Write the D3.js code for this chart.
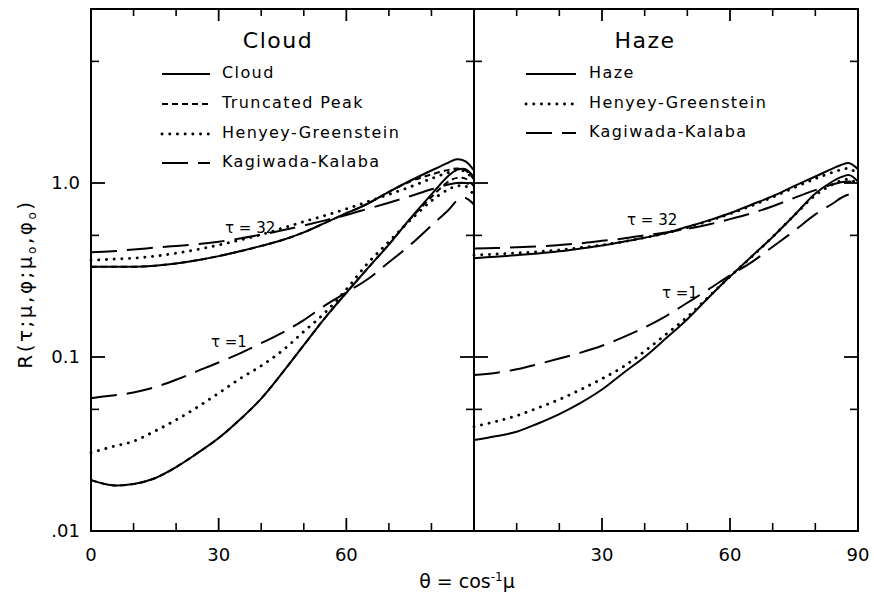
<!DOCTYPE html>
<html><head><meta charset="utf-8">
<script src="https://cdn.jsdelivr.net/npm/d3@7"></script>
<style>
body{margin:0;background:#fff}
svg{display:block}
text{font-family:"DejaVu Sans",sans-serif;fill:#000}
</style>
</head><body>
<svg id="c" width="874" height="600"></svg>
<script>
// ---- data ----
const theta = [0,5,10,15,20,25,30,35,40,45,50,55,60,65,70,75,80,84,86,88,90];

// Cloud panel
const cloudTau32    = [0.33,0.33,0.33,0.335,0.345,0.36,0.38,0.405,0.435,0.47,0.52,0.59,0.67,0.76,0.89,1.03,1.18,1.31,1.37,1.33,1.18];
const truncTau32    = [0.33,0.33,0.33,0.335,0.345,0.36,0.38,0.405,0.435,0.47,0.52,0.59,0.67,0.76,0.89,1.02,1.12,1.19,1.21,1.18,1.05];
const cloudHGTau32  = [0.36,0.365,0.37,0.38,0.395,0.415,0.44,0.47,0.505,0.55,0.6,0.65,0.71,0.78,0.86,0.95,1.06,1.15,1.19,1.16,1.04];
const cloudKKTau32  = [0.40,0.405,0.415,0.425,0.435,0.445,0.46,0.48,0.505,0.535,0.57,0.61,0.655,0.71,0.77,0.84,0.92,0.98,1.0,1.0,0.96];
const cloudTau1     = [0.0196,0.0183,0.0186,0.0201,0.0233,0.028,0.0342,0.0437,0.0577,0.0813,0.117,0.168,0.234,0.323,0.443,0.624,0.86,1.1,1.19,1.2,1.08];
const truncTau1     = [0.0196,0.0183,0.0186,0.0201,0.0233,0.028,0.0342,0.0437,0.0577,0.0813,0.117,0.168,0.234,0.323,0.443,0.62,0.83,1.02,1.07,1.06,0.96];
const cloudHGTau1   = [0.0282,0.0305,0.0328,0.0375,0.0435,0.0515,0.062,0.075,0.089,0.109,0.14,0.18,0.245,0.345,0.46,0.61,0.79,0.92,0.96,0.96,0.85];
const cloudKKTau1   = [0.058,0.06,0.0625,0.067,0.074,0.083,0.093,0.105,0.12,0.138,0.163,0.198,0.235,0.28,0.35,0.44,0.57,0.7,0.79,0.82,0.75];

// Haze panel
const hazeTau32     = [0.37,0.377,0.385,0.394,0.405,0.42,0.437,0.46,0.485,0.515,0.56,0.61,0.67,0.75,0.84,0.96,1.09,1.21,1.27,1.30,1.2];
const hazeHGTau32   = [0.385,0.39,0.396,0.403,0.412,0.425,0.44,0.46,0.485,0.515,0.555,0.605,0.665,0.74,0.83,0.94,1.06,1.15,1.19,1.21,1.12];
const hazeKKTau32   = [0.42,0.423,0.427,0.432,0.44,0.45,0.465,0.48,0.5,0.52,0.545,0.578,0.62,0.67,0.735,0.82,0.91,0.98,1.01,1.02,0.99];
const hazeTau1      = [0.0333,0.035,0.0372,0.0415,0.047,0.0545,0.065,0.081,0.1,0.128,0.165,0.22,0.29,0.377,0.49,0.65,0.87,1.02,1.08,1.11,1.02];
const hazeHGTau1    = [0.0398,0.0425,0.046,0.051,0.057,0.065,0.075,0.088,0.108,0.135,0.17,0.222,0.29,0.375,0.49,0.65,0.85,0.98,1.03,1.05,0.98];
const hazeKKTau1    = [0.0788,0.081,0.085,0.091,0.098,0.106,0.116,0.13,0.148,0.172,0.205,0.245,0.295,0.35,0.43,0.53,0.66,0.76,0.82,0.86,0.85];

// ticks / labels
const yTickLabels = [{v:1,t:"1.0"},{v:0.1,t:"0.1"},{v:0.01,t:".01"}];
const yMajorTicks = [1,0.1];
const yMinorTicks = [5,0.5,0.05];
const xMinorTicks = [10,20,40,50,70,80];
const xMajorTicks = [30,60];
const leftXLabels  = [0,30,60];
const rightXLabels = [30,60,90];
const cloudLegend = ["Cloud","Truncated Peak","Henyey-Greenstein","Kagiwada-Kalaba"];
const hazeLegend  = ["Haze","Henyey-Greenstein","Kagiwada-Kalaba"];

// ---- drawing ----
const svg = d3.select("#c");
const yTop = 9, yBot = 531;
const y = d3.scaleLog().domain([0.01,10]).range([yBot, yTop]);
const xL = d3.scaleLinear().domain([0,90]).range([91,474]);
const xR = d3.scaleLinear().domain([0,90]).range([474,858]);

const styles = {
  solid:{dash:null, w:2, cap:"butt"},
  trunc:{dash:"6,4", w:2, cap:"butt"},
  dot:{dash:"0.1,7.6", w:2.9, cap:"round"},
  long:{dash:"26,10", w:2, cap:"butt"}
};

function drawCurve(x, vals, st){
  const s = styles[st];
  const line = d3.line().x((d,i)=>x(theta[i])).y(d=>y(d)).curve(d3.curveCatmullRom.alpha(0.5));
  const p = svg.append("path").datum(vals).attr("d", line)
    .attr("fill","none").attr("stroke","#000").attr("stroke-width",s.w)
    .attr("stroke-linecap",s.cap).attr("stroke-linejoin","round");
  if(s.dash) p.attr("stroke-dasharray", s.dash);
}

function panel(x, curves, title, legend, legendStyles, lx0, lx1, ltx, rows){
  svg.append("rect").attr("x",x.range()[0]).attr("y",yTop).attr("width",x.range()[1]-x.range()[0])
    .attr("height",yBot-yTop).attr("fill","none").attr("stroke","#000").attr("stroke-width",2);
  xMinorTicks.forEach(t=>{
    svg.append("line").attr("x1",x(t)).attr("x2",x(t)).attr("y1",yBot).attr("y2",yBot-8).attr("stroke","#000").attr("stroke-width",1.6);
    svg.append("line").attr("x1",x(t)).attr("x2",x(t)).attr("y1",yTop).attr("y2",yTop+7).attr("stroke","#000").attr("stroke-width",1.6);
  });
  xMajorTicks.forEach(t=>{
    svg.append("line").attr("x1",x(t)).attr("x2",x(t)).attr("y1",yBot).attr("y2",yBot-13).attr("stroke","#000").attr("stroke-width",1.8);
    svg.append("line").attr("x1",x(t)).attr("x2",x(t)).attr("y1",yTop).attr("y2",yTop+12).attr("stroke","#000").attr("stroke-width",1.8);
  });
  const [a,b] = x.range();
  yMajorTicks.forEach(v=>{
    svg.append("line").attr("x1",a).attr("x2",a+14).attr("y1",y(v)).attr("y2",y(v)).attr("stroke","#000").attr("stroke-width",1.8);
    svg.append("line").attr("x1",b).attr("x2",b-14).attr("y1",y(v)).attr("y2",y(v)).attr("stroke","#000").attr("stroke-width",1.8);
  });
  yMinorTicks.forEach(v=>{
    svg.append("line").attr("x1",a).attr("x2",a+8).attr("y1",y(v)).attr("y2",y(v)).attr("stroke","#000").attr("stroke-width",1.6);
    svg.append("line").attr("x1",b).attr("x2",b-8).attr("y1",y(v)).attr("y2",y(v)).attr("stroke","#000").attr("stroke-width",1.6);
  });
  curves.forEach(c=>drawCurve(x, c[0], c[1]));
  svg.append("text").attr("x",title.x).attr("y",48).attr("text-anchor","middle")
    .attr("font-size",22).attr("letter-spacing",1.5).text(title.t);
  legend.forEach((t,i)=>{
    const by = rows[i];
    const s = styles[legendStyles[i]];
    const l = svg.append("line").attr("x1",lx0).attr("x2",lx1).attr("y1",by-4).attr("y2",by-4)
      .attr("stroke","#000").attr("stroke-width",s.w).attr("stroke-linecap",s.cap);
    if(s.dash) l.attr("stroke-dasharray", s.dash);
    svg.append("text").attr("x",ltx).attr("y",by).attr("font-size",16).attr("letter-spacing",1.4).text(t);
  });
}

panel(xL, [
  [cloudTau32,"solid"],[truncTau32,"trunc"],[cloudHGTau32,"dot"],[cloudKKTau32,"long"],
  [cloudTau1,"solid"],[truncTau1,"trunc"],[cloudHGTau1,"dot"],[cloudKKTau1,"long"]
], {x:278,t:"Cloud"}, cloudLegend, ["solid","trunc","dot","long"], 162, 210, 222, [78,108,138,167]);

panel(xR, [
  [hazeTau32,"solid"],[hazeHGTau32,"dot"],[hazeKKTau32,"long"],
  [hazeTau1,"solid"],[hazeHGTau1,"dot"],[hazeKKTau1,"long"]
], {x:645,t:"Haze"}, hazeLegend, ["solid","dot","long"], 526, 576, 589, [78,108,137]);

const tauLabels = [
  {x:225,y:233,t:"τ = 32"},{x:211,y:347,t:"τ =1"},
  {x:627,y:225,t:"τ = 32"},{x:662,y:298,t:"τ =1"}
];
tauLabels.forEach(d=>svg.append("text").attr("x",d.x).attr("y",d.y).attr("font-size",15).text(d.t));

yTickLabels.forEach(d=>svg.append("text").attr("x",80).attr("y",y(d.v)+6).attr("text-anchor","end")
  .attr("font-size",18).text(d.t));
leftXLabels.forEach(v=>svg.append("text").attr("x",xL(v)).attr("y",561).attr("text-anchor","middle").attr("font-size",18).text(v));
rightXLabels.forEach(v=>svg.append("text").attr("x",xR(v)).attr("y",561).attr("text-anchor","middle").attr("font-size",18).text(v));

const xt = svg.append("text").attr("x",467).attr("y",588).attr("text-anchor","middle").attr("font-size",19);
xt.append("tspan").text("θ = cos");
xt.append("tspan").attr("font-size",12).attr("dy",-7).text("-1");
xt.append("tspan").attr("dy",7).text("μ");

const yt = svg.append("text").attr("transform","translate(32,284) rotate(-90)").attr("text-anchor","middle").attr("font-size",20).attr("letter-spacing",2.5);
yt.append("tspan").text("R(τ;μ,φ;μ");
yt.append("tspan").attr("font-size",12).attr("dy",4).text("o");
yt.append("tspan").attr("dy",-4).text(",φ");
yt.append("tspan").attr("font-size",12).attr("dy",4).text("o");
yt.append("tspan").attr("dy",-4).text(")");
</script>
</body></html>
